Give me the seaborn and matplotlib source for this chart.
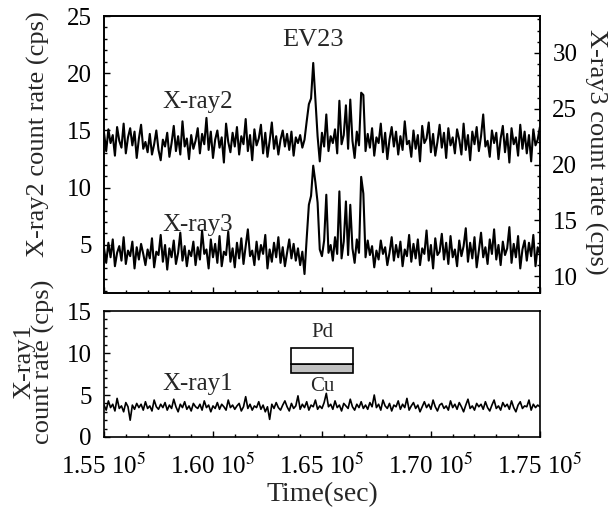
import numpy as np
import pandas as pd
import matplotlib
matplotlib.use("Agg")
import matplotlib.pyplot as plt
from matplotlib.patches import Rectangle
from matplotlib.ticker import MultipleLocator, FixedLocator
import seaborn as sns

# sampling of the light curves
T_START = 155000
T_STEP = 100

# X-ray2 count rate (cps), left axis of the upper panel
xray2 = [
    14.8, 13.2, 15.1, 13.9, 14.6, 12.8, 15.3, 14.1, 13.5, 15.6, 13.0, 14.4, 15.2, 13.7, 14.9, 12.6, 14.3, 15.5, 13.4, 14.0,
    13.1, 14.7, 12.9, 13.8, 15.0, 13.3, 12.4, 14.2, 13.6, 14.8, 12.7, 13.9, 15.4, 13.2, 14.5, 12.9, 15.8, 13.6, 14.3, 12.5,
    14.6, 13.4, 14.1, 15.2, 13.0, 14.7, 13.8, 16.1, 13.3, 14.9, 12.6, 14.2, 15.0, 13.5, 14.4, 12.2, 15.6, 14.0, 13.1, 14.8,
    13.6, 15.3, 12.9, 14.5, 13.8, 16.0, 13.2, 14.6, 12.4, 15.1, 13.7, 14.3, 15.5, 13.0, 14.8, 12.7, 14.1, 15.7, 13.4, 14.5,
    12.9, 14.2, 15.0, 13.6, 14.7, 13.3, 14.9, 12.8, 14.4, 13.9, 14.6, 13.5,
    14.2, 15.8, 17.3, 17.8, 20.9, 17.7, 14.5, 12.3,
    14.8, 13.6, 16.4, 13.2, 14.5, 13.9, 15.1, 13.0, 17.6, 13.8, 14.6, 17.2, 13.4, 17.7, 14.1, 12.6, 14.9, 13.7, 18.3, 18.1,
    13.2, 14.7,
    13.5, 15.2, 12.8, 14.4, 13.9, 15.6, 13.1, 14.8, 12.5, 14.2, 15.3, 13.6, 14.9, 12.9, 14.5, 13.3, 15.8, 13.8, 14.1, 12.7,
    15.0, 13.4, 14.6, 12.3, 15.4, 13.9, 14.3, 15.7, 13.1, 14.7, 12.8, 14.0, 15.5, 13.5, 14.8, 12.6, 15.2, 13.7, 14.4, 13.0,
    15.1, 14.2, 12.9, 15.6, 13.3, 14.6, 12.4, 14.9, 13.8, 15.3, 13.2, 14.5, 16.4, 13.6, 14.1, 12.7, 15.0, 13.9, 14.8, 12.5,
    14.3, 15.4, 13.1, 14.7, 12.2, 15.2, 13.8, 14.4, 12.8, 15.5, 13.4, 14.9, 13.0, 14.6, 12.3, 15.1, 13.7, 14.2, 15.3,
]

# X-ray3 count rate (cps), right axis of the upper panel
xray3 = [
    12.5, 11.2, 13.0, 11.7, 13.3, 10.9, 12.1, 12.7, 11.4, 13.5, 11.1, 12.3, 11.8, 13.1, 10.7, 12.6, 11.5, 12.9, 12.0, 11.0,
    12.4, 11.6, 13.4, 10.8, 12.2, 11.9, 13.7, 11.3, 12.8, 10.6, 12.5, 11.7, 13.2, 11.1, 12.1, 13.9, 11.4, 12.7, 10.9, 12.3,
    11.8, 13.1, 11.0, 12.6, 11.5, 14.1, 12.0, 12.4, 10.7, 13.3, 11.7, 12.9, 11.2, 13.6, 10.9, 12.2, 11.9, 14.0, 11.3, 12.5,
    10.8, 13.0, 11.6, 13.4, 11.1, 12.7, 14.2, 11.8, 12.3, 11.0, 13.1, 11.5, 12.8, 12.0, 13.7, 10.7, 12.4, 11.3, 13.0, 11.7,
    13.5, 11.2, 12.6, 10.9, 12.1, 13.3, 11.6, 12.9, 11.4, 12.5, 11.0, 12.2,
    10.2, 13.4, 16.4, 17.2, 19.9, 18.4, 16.6, 12.4,
    11.8, 13.2, 17.3, 12.1, 12.8, 11.4, 13.5, 12.0, 17.6, 11.6, 13.1, 16.7, 11.9, 16.4, 12.5, 11.2, 13.3, 12.1, 18.9, 17.4,
    11.7, 13.2,
    11.9, 12.7, 10.8, 12.3, 11.5, 13.2, 12.0, 12.6, 11.0, 12.1, 13.5, 11.4, 12.8, 11.7, 13.1, 10.9, 12.4, 11.8, 13.7, 11.3,
    12.9, 11.6, 13.3, 11.0, 12.5, 12.0, 14.1, 11.4, 12.8, 10.7, 13.4, 11.9, 12.2, 13.8, 11.5, 13.0, 11.1, 13.6, 11.7, 12.4,
    10.9, 13.2, 11.8, 12.7, 14.3, 11.3, 13.0, 11.6, 13.5, 10.8, 12.3, 13.9, 11.7, 12.6, 11.1, 13.3, 12.0, 14.2, 11.5, 12.8,
    11.0, 13.1, 11.9, 12.5, 14.4, 11.2, 12.9, 11.7, 13.6, 10.7, 12.4, 13.2, 11.4, 13.0, 11.8, 13.7, 10.9, 12.6, 12.0,
]

# X-ray1 count rate (cps), lower panel
xray1 = [
    3.8, 3.2, 4.3, 3.5, 3.9, 3.1, 4.6, 3.4, 3.7, 3.0, 4.1, 3.6, 2.0, 3.8, 3.3, 4.0, 3.5, 3.9, 3.2, 4.2,
    3.4, 3.7, 3.1, 4.4, 3.6, 3.3, 3.9, 3.5, 4.1, 3.2, 3.8, 3.4, 4.5, 3.6, 3.0, 3.9, 3.5, 4.2, 3.3, 3.7,
    3.1, 4.0, 3.6, 3.4, 3.9, 3.2, 4.3, 3.5, 3.8, 3.0, 3.7, 3.4, 4.1, 3.3, 3.9, 3.6, 3.2, 4.4, 3.5, 3.8,
    3.3, 3.7, 4.0, 3.1, 3.6, 4.8, 3.4, 3.9, 3.2, 3.7, 3.5, 4.2, 3.3, 3.8, 3.0, 3.6, 2.1, 3.9, 3.4, 4.1,
    3.5, 3.2, 3.8, 4.3, 3.6, 3.1, 4.0, 3.4, 3.7, 4.9, 3.3, 3.9, 3.5, 4.2, 3.2, 3.8, 3.6, 4.4, 3.3, 3.7,
    3.4, 4.1, 5.2, 3.6, 3.9, 3.3, 4.3, 3.5, 3.8, 3.1, 4.0, 3.7, 3.4, 4.5, 3.6, 3.2, 3.9, 3.5, 4.2, 3.4,
    3.8, 3.3, 4.1, 3.6, 5.0, 3.5, 3.9, 3.2, 4.4, 3.7, 3.4, 4.0, 3.1, 3.8, 3.6, 4.3, 3.3, 3.9, 3.5, 4.6,
    3.2, 3.7, 4.1, 3.4, 3.8, 3.0, 3.6, 4.2, 3.5, 3.9, 3.3, 4.4, 3.6, 3.1, 3.8, 4.0, 3.4, 3.7, 3.2, 4.3,
    3.5, 3.9, 3.3, 4.1, 3.6, 3.0, 3.8, 4.5, 3.4, 3.7, 3.2, 4.0, 3.6, 3.9, 3.3, 4.2, 3.5, 3.1, 3.8, 4.4,
    3.4, 3.7, 3.2, 4.1, 3.6, 3.9, 3.3, 4.3, 3.5, 3.0, 3.8, 4.2, 3.4, 3.7, 3.6, 4.4, 3.2, 3.9, 3.5, 3.8, 3.6,
]

x_ticks = [155000, 160000, 165000, 170000, 175000]
x_ticklabels = [r"1.55 10$^{5}$", r"1.60 10$^{5}$", r"1.65 10$^{5}$",
                r"1.70 10$^{5}$", r"1.75 10$^{5}$"]


def to_frame(values):
    t = T_START + T_STEP * np.arange(len(values))
    return pd.DataFrame({"time": t, "rate": values})


def style_ticks(ax, axis="both"):
    ax.tick_params(axis=axis, which="both", direction="in", labelsize=FS, colors="black")
    ax.tick_params(axis=axis, which="major", length=4, width=1)
    ax.tick_params(axis=axis, which="minor", length=2.5, width=1)


sns.set_style("ticks")
plt.rcParams["font.family"] = ["Liberation Serif", "DejaVu Serif"]
plt.rcParams["mathtext.fontset"] = "stix"
plt.rcParams["axes.linewidth"] = 1.2
plt.rcParams["axes.edgecolor"] = "black"

FS = 18
LFS = 19
fig = plt.figure(figsize=(6.13, 5.12), dpi=100)
ax_top = fig.add_axes([0.1697, 0.4277, 0.711, 0.541])
ax_r = ax_top.twinx()
ax_bot = fig.add_axes([0.1697, 0.1465, 0.711, 0.246])

sns.lineplot(data=to_frame(xray2), x="time", y="rate", ax=ax_top,
             color="black", linewidth=1.5, estimator=None, sort=False)
sns.lineplot(data=to_frame(xray3), x="time", y="rate", ax=ax_r,
             color="black", linewidth=1.5, estimator=None, sort=False)
sns.lineplot(data=to_frame(xray1), x="time", y="rate", ax=ax_bot,
             color="black", linewidth=1.2, estimator=None, sort=False)

for ax in (ax_top, ax_bot):
    ax.set_xlim(155000, 175000)
    ax.xaxis.set_major_locator(FixedLocator(x_ticks))
    ax.xaxis.set_minor_locator(MultipleLocator(1000))
    ax.yaxis.set_major_locator(MultipleLocator(5))
    ax.yaxis.set_minor_locator(MultipleLocator(1))
    style_ticks(ax)
    ax.tick_params(axis="y", which="major", pad=9)
    ax.tick_params(axis="x", which="major", pad=12)

ax_top.set_ylim(0.8, 25)
ax_r.set_ylim(8.5, 33.3)
ax_bot.set_ylim(0, 15)

ax_r.yaxis.set_major_locator(MultipleLocator(5))
ax_r.yaxis.set_minor_locator(MultipleLocator(1))
style_ticks(ax_r, "y")
ax_r.tick_params(axis="y", which="major", pad=9)

ax_top.set_xticklabels([])
ax_top.set_xlabel("")
ax_bot.set_xticklabels(x_ticklabels)

ax_top.set_ylabel("X-ray2 count rate (cps)", fontsize=LFS)
ax_top.yaxis.set_label_coords(-0.125, 0.575)
ax_r.set_ylabel("X-ray3 count rate (cps)", fontsize=LFS, rotation=270)
ax_r.yaxis.set_label_coords(1.155, 0.51)
ax_bot.set_ylabel("X-ray1\ncount rate (cps)", fontsize=LFS, linespacing=0.8)
ax_bot.yaxis.set_label_coords(-0.113, 0.6)
ax_bot.set_xlabel("Time(sec)", fontsize=20, labelpad=2)

ax_top.text(0.48, 0.915, "EV23", transform=ax_top.transAxes, fontsize=19,
            ha="center", va="center")
ax_top.text(0.135, 0.69, "X-ray2", transform=ax_top.transAxes, fontsize=18,
            ha="left", va="center")
ax_top.text(0.135, 0.245, "X-ray3", transform=ax_top.transAxes, fontsize=18,
            ha="left", va="center")
ax_bot.text(0.135, 0.42, "X-ray1", transform=ax_bot.transAxes, fontsize=18,
            ha="left", va="center")

# Pd on Cu sample sketch
ax_bot.add_patch(Rectangle((0.43, 0.508), 0.142, 0.072, transform=ax_bot.transAxes,
                           facecolor="#c0c0c0", edgecolor="black", linewidth=1.2))
ax_bot.add_patch(Rectangle((0.43, 0.58), 0.142, 0.126, transform=ax_bot.transAxes,
                           facecolor="white", edgecolor="black", linewidth=1.2))
ax_bot.text(0.5, 0.83, "Pd", transform=ax_bot.transAxes, fontsize=15,
            ha="center", va="center")
ax_bot.text(0.5, 0.40, "Cu", transform=ax_bot.transAxes, fontsize=15,
            ha="center", va="center")

fig.savefig("out.png", dpi=100)
